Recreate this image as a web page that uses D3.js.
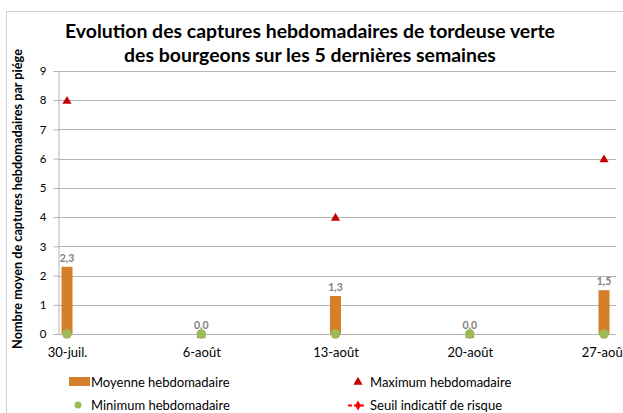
<!DOCTYPE html>
<html>
<head>
<meta charset="utf-8">
<script src="https://cdn.jsdelivr.net/npm/d3@7"></script>
<style>
  html, body { margin: 0; padding: 0; background: #fff; }
  svg { display: block; }
  text { font-family: Lato, "Open Sans", sans-serif; }
</style>
</head>
<body>
<script>
const categories = ["30-juil.", "6-août", "13-août", "20-août", "27-août"];
const moyenne = [2.3, 0.0, 1.3, 0.0, 1.5];
const maximum = [8, 0, 4, 0, 6];
const minimum = [0, 0, 0, 0, 0];
const seuil = [];
const yTicks = [0, 1, 2, 3, 4, 5, 6, 7, 8, 9];
const titleLines = ["Evolution des captures hebdomadaires de tordeuse verte",
                    "des bourgeons sur les 5 dernières semaines"];
const yLabel = "Nombre moyen de captures hebdomadaires par piége";
const legendItems = ["Moyenne hebdomadaire", "Maximum hebdomadaire", "Minimum hebdomadaire", "Seuil indicatif de risque"];

const W = 623, H = 413;
const orange = "#d57f2b", green = "#9bbb59", red = "#c00000", grid = "#b3b3b3";

const svg = d3.select("body").append("svg").attr("width", W).attr("height", H);

function fitWidth(sel, target) {
  const fs = +sel.attr("font-size");
  const w = sel.node().getComputedTextLength();
  if (w > 0) sel.attr("font-size", (fs * target / w).toFixed(2));
}

// chart border
svg.append("rect").attr("x", 6.5).attr("y", 11.5).attr("width", 640).attr("height", 420)
  .attr("fill", "none").attr("stroke", "#d0d0d0");

const x = d3.scalePoint().domain(categories).range([67, 604]);
const y = d3.scaleLinear().domain([0, 9]).range([334, 71]);
const plotLeft = 58, plotRight = 616;

// gridlines
svg.append("g").selectAll("line").data(yTicks).join("line")
  .attr("x1", plotLeft).attr("x2", plotRight)
  .attr("y1", d => Math.round(y(d)) + 0.5).attr("y2", d => Math.round(y(d)) + 0.5)
  .attr("stroke", grid).attr("stroke-width", 1);

// y axis
const yAxis = d3.axisLeft(y).tickValues(yTicks).tickSize(5).tickPadding(7).tickFormat(d3.format("d"));
const gy = svg.append("g").attr("transform", `translate(${plotLeft + 0.5},0)`).call(yAxis);
gy.select(".domain").attr("stroke", grid);
gy.selectAll(".tick line").attr("stroke", grid);
gy.selectAll(".tick text").attr("font-size", 11.5).attr("fill", "#000")
  .attr("font-family", "Lato, sans-serif");

// x axis labels
const xAxis = d3.axisBottom(x).tickSize(0).tickPadding(14);
const gx = svg.append("g").attr("transform", `translate(0,${y(0)})`).call(xAxis);
gx.select(".domain").remove();
gx.selectAll(".tick text").attr("font-size", 13).attr("fill", "#000")
  .attr("font-family", "Lato, sans-serif");

// bars
const barW = 11;
svg.append("g").selectAll("rect").data(moyenne).join("rect")
  .attr("x", (d, i) => x(categories[i]) - barW / 2)
  .attr("y", d => y(d))
  .attr("width", barW)
  .attr("height", d => y(0) - y(d))
  .attr("fill", orange);

// data labels
svg.append("g").selectAll("text").data(moyenne).join("text")
  .attr("x", (d, i) => x(categories[i]))
  .attr("y", d => y(d) - 5)
  .attr("text-anchor", "middle")
  .attr("font-size", 10.5).attr("font-weight", "bold").attr("fill", "#7f7f7f")
  .text(d => d3.format(".1f")(d).replace(".", ","));

// maximum triangles
const tri = d3.symbol().type(d3.symbolTriangle).size(36);
svg.append("g").selectAll("path").data(maximum).join("path")
  .attr("d", tri)
  .attr("transform", (d, i) => `translate(${x(categories[i])},${y(d) + 1})`)
  .attr("fill", red);

// minimum dots
svg.append("g").selectAll("circle").data(minimum).join("circle")
  .attr("cx", (d, i) => x(categories[i]))
  .attr("cy", d => y(d))
  .attr("r", 4.8)
  .attr("fill", green);

// title
const tg = svg.append("g").selectAll("text").data(titleLines).join("text")
  .attr("x", 310).attr("y", (d, i) => 38 + i * 24)
  .attr("text-anchor", "middle")
  .attr("font-size", 17.5).attr("font-weight", "bold").attr("fill", "#000")
  .text(d => d);
const t1 = d3.select(tg.nodes()[0]);
fitWidth(t1, 490);
tg.attr("font-size", t1.attr("font-size"));

// y label
const yl = svg.append("text")
  .attr("transform", `translate(22,${199}) rotate(-90)`)
  .attr("text-anchor", "middle")
  .attr("font-size", 11).attr("font-weight", "bold").attr("fill", "#000")
  .text(yLabel);
fitWidth(yl, 300);

// legend
const lg = svg.append("g");
const legPos = [[91, 386.5], [370, 386.5], [91, 409.5], [370, 409.5]];
lg.selectAll("text").data(legendItems).join("text")
  .attr("x", (d, i) => legPos[i][0]).attr("y", (d, i) => legPos[i][1])
  .attr("font-size", 13).attr("fill", "#000")
  .text(d => d);
lg.append("rect").attr("x", 69).attr("y", 377).attr("width", 21).attr("height", 9).attr("fill", orange);
lg.append("path").attr("d", d3.symbol().type(d3.symbolTriangle).size(36))
  .attr("transform", "translate(358,382)").attr("fill", red);
lg.append("circle").attr("cx", 78).attr("cy", 405).attr("r", 3.5).attr("fill", green);
lg.append("line").attr("x1", 348).attr("x2", 366).attr("y1", 405.5).attr("y2", 405.5)
  .attr("stroke", "#ff0000").attr("stroke-width", 2).attr("stroke-dasharray", "4,2");
lg.append("path").attr("d", d3.symbol().type(d3.symbolDiamond).size(30))
  .attr("transform", "translate(358,405.5)").attr("fill", "#ff0000");
</script>
</body>
</html>
